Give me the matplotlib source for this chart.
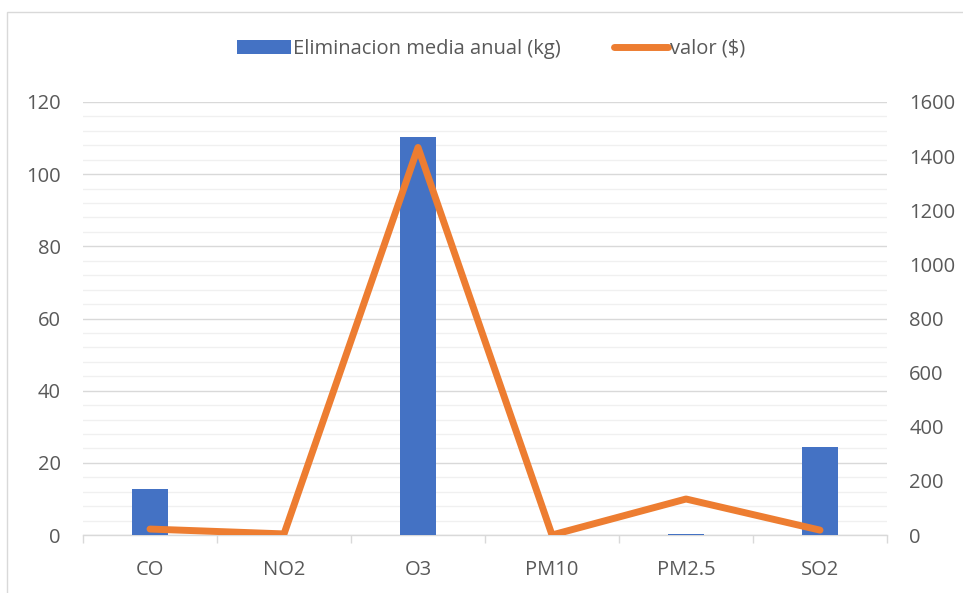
import matplotlib.pyplot as plt
from matplotlib.patches import Rectangle
from matplotlib.ticker import MultipleLocator
import numpy as np

plt.rcParams['font.family'] = ['Open Sans', 'DejaVu Sans']

contaminantes = ["CO", "NO2", "O3", "PM10", "PM2.5", "SO2"]
eliminacion_kg = [12.8, 0.0, 110.3, 0.0, 0.3, 24.4]
valor_usd = [22, 4, 1432, 0, 133, 18]

BLUE = "#4472c4"
ORANGE = "#ed7d31"
TEXT = "#595959"
FS = 14.5

fig = plt.figure(figsize=(9.63, 5.93), dpi=100)
ax = fig.add_axes([0.0862, 0.0978, 0.8349, 0.7302])
ax2 = ax.twinx()

x = np.arange(len(contaminantes))

# barras en el eje izquierdo
bars = ax.bar(x, eliminacion_kg, width=0.27, color=BLUE, zorder=3,
              label="Eliminacion media anual (kg)")

# linea de valor en el eje derecho
line, = ax2.plot(x, valor_usd, color=ORANGE, lw=5, solid_capstyle="round",
                 solid_joinstyle="round", zorder=4, label="valor ($)")

ax.set_xlim(-0.5, len(contaminantes) - 0.5)
ax.set_ylim(0, 120)
ax2.set_ylim(0, 1600)

ax.yaxis.set_major_locator(MultipleLocator(20))
ax.yaxis.set_minor_locator(MultipleLocator(4))
ax2.yaxis.set_major_locator(MultipleLocator(200))

ax.grid(which="major", axis="y", color="#d9d9d9", lw=1.0, zorder=0)
ax.grid(which="minor", axis="y", color="#f0f0f0", lw=1.0, zorder=0)

for a in (ax, ax2):
    for s in ("top", "right", "left", "bottom"):
        a.spines[s].set_visible(False)
ax.spines["bottom"].set_visible(True)
ax.spines["bottom"].set_color("#d9d9d9")
ax.spines["bottom"].set_linewidth(1.0)

# ticks del eje x entre categorias
ax.set_xticks(x)
ax.set_xticklabels(contaminantes)
ax.set_xticks(np.arange(-0.5, len(contaminantes), 1.0), minor=True)
ax.tick_params(axis="x", which="major", length=0, pad=18, labelsize=FS, labelcolor=TEXT)
ax.tick_params(axis="x", which="minor", length=6, width=1.0, color="#d9d9d9")
ax.tick_params(axis="y", which="both", length=0, labelsize=FS, labelcolor=TEXT, pad=16)
ax2.tick_params(axis="y", length=0, labelsize=FS, labelcolor=TEXT, pad=16)

ax.set_zorder(ax2.get_zorder() - 1)
ax2.patch.set_visible(False)

fig.legend(handles=[bars, line], loc="center", bbox_to_anchor=(0.51, 0.918),
           ncol=2, frameon=False, fontsize=FS, labelcolor=TEXT,
           handlelength=2.7, handletextpad=0.1, columnspacing=2.6)

# marco exterior del grafico
fig.patches.append(Rectangle((7 / 963, -0.01), 1.0, 1 - 12 / 593 + 0.01,
                             transform=fig.transFigure, fill=False,
                             edgecolor="#d9d9d9", lw=1.0))

fig.savefig("out.png", dpi=100)
